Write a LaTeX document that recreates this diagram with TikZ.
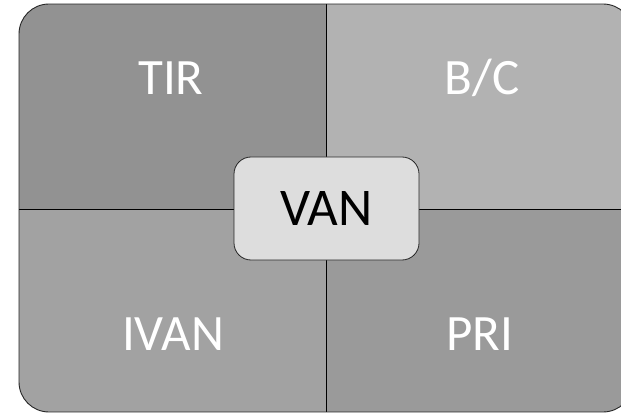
\documentclass[tikz,border=0pt]{standalone}
\usepackage{fontspec}
\setmainfont{Carlito}
\usetikzlibrary{positioning}

\definecolor{tirGray}{HTML}{929292}
\definecolor{bcGray}{HTML}{B2B2B2}
\definecolor{ivanGray}{HTML}{A2A2A2}
\definecolor{priGray}{HTML}{9A9A9A}
\definecolor{vanGray}{HTML}{DDDDDD}
\definecolor{edgeGray}{HTML}{262626}

\begin{document}
\begin{tikzpicture}
	[ x=1pt, y=-1pt,
		quadLabel/.style={anchor=base,text=white,font=\fontsize{51}{51}\selectfont,inner sep=0pt},
		centerBox/.style={rectangle,draw=edgeGray,fill=vanGray,rounded corners=17pt,minimum width=185pt,minimum height=103pt,font=\fontsize{53}{53}\selectfont,line width=0.8pt},
		divider/.style={draw=black,line width=0.7pt}]

	\useasboundingbox (0,0) rectangle (621,414);

	% corners of the frame and the split point
	\coordinate (nw) at (19,4);
	\coordinate (se) at (633,412);
	\coordinate (mid) at (326,209);
	\coordinate (top) at (326,4);
	\coordinate (bottom) at (326,412);
	\coordinate (left) at (19,209);
	\coordinate (right) at (633,209);

	\begin{scope}
		\clip[rounded corners=30pt] (nw) rectangle (se);
		\fill[tirGray] (nw) rectangle (mid);
		\fill[bcGray] (top) rectangle (right);
		\fill[ivanGray] (left) rectangle (bottom);
		\fill[priGray] (mid) rectangle (se);
	\end{scope}

	\draw[divider] (top) -- (bottom);
	\draw[divider] (left) -- (right);
	\draw[edgeGray,line width=0.9pt,rounded corners=30pt] (nw) rectangle (se);

	\node[quadLabel] (tir) at (171,95) {TIR};
	\node[quadLabel] (bc) at (482,95) {B/C};
	\node[quadLabel] (ivan) at (173,350) {IVAN};
	\node[quadLabel] (pri) at (480,350) {PRI};

	\node[centerBox] (van) at (326.5,208.5) {VAN};
\end{tikzpicture}
\end{document}
